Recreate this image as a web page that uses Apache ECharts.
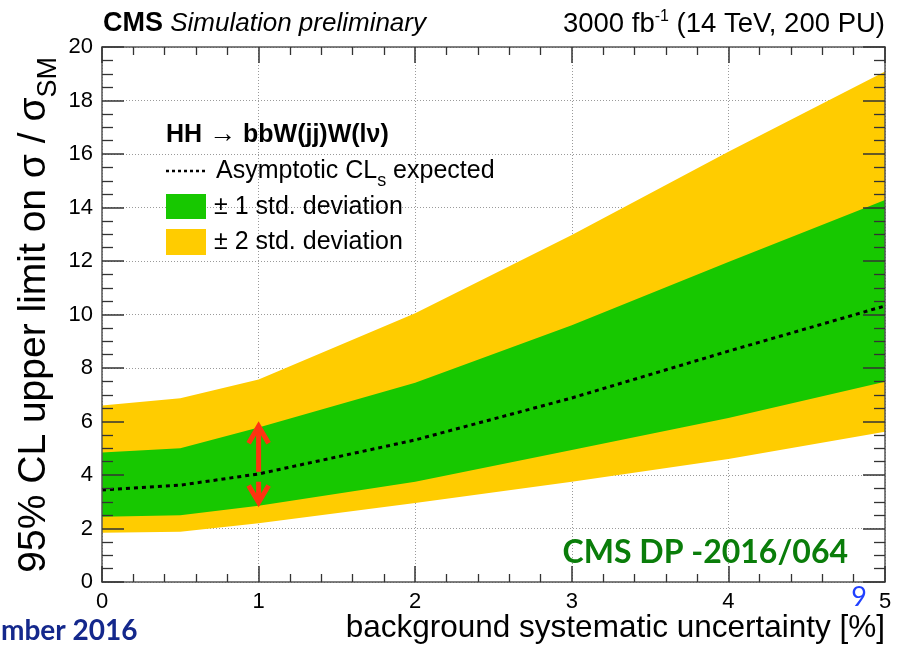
<!DOCTYPE html>
<html>
<head>
<meta charset="utf-8">
<script src="https://cdn.jsdelivr.net/npm/echarts@6.0.0/dist/echarts.min.js"></script>
<style>
  html, body { margin: 0; padding: 0; background: #fff; }
  #chart { width: 910px; height: 645px; }
</style>
</head>
<body>
<div id="chart"></div>
<script>
// Background systematic uncertainty [%]
const uncertainty = [0, 0.5, 1, 2, 3, 4, 5];
// Expected 95% CL upper limit on sigma / sigma_SM and its bands
const expected     = [3.44, 3.62, 4.04, 5.31, 6.88, 8.63, 10.32];
const oneSigmaLow  = [2.44, 2.50, 2.85, 3.75, 4.93, 6.13, 7.49];
const oneSigmaHigh = [4.84, 5.00, 5.78, 7.45, 9.60, 11.96, 14.28];
const twoSigmaLow  = [1.84, 1.88, 2.20, 2.95, 3.75, 4.60, 5.62];
const twoSigmaHigh = [6.60, 6.87, 7.57, 10.05, 12.97, 16.08, 19.08];
// Highlighted spread at 1% uncertainty: [x, shaft start, up tip, down start, down tip]
const arrowMarks = [[1, 4.12, 5.90, 3.75, 2.90]];

const xTicks = { min: 0, max: 5, interval: 1 };
const yTicks = { min: 0, max: 20, interval: 2 };

const FONT = '"Liberation Sans", Arial, Helvetica, sans-serif';
const SLIDE_FONT = 'Lato, "Open Sans", sans-serif';
const YELLOW = '#ffcc00';
const GREEN = '#17c800';
const RED = '#ff3311';
const FRAME = '#555';
const TICK = '#333';

const pts = arr => uncertainty.map((x, i) => [x, arr[i]]);
const bandRows = (lo, hi) => uncertainty.map((x, i) => [x, lo[i], hi[i]]);

// Filled band between two curves, drawn as one polygon through the cartesian scale
function bandSeries(lo, hi, color, z) {
  return {
    type: 'custom', data: bandRows(lo, hi), z: z, silent: true,
    encode: { x: 0, y: [1, 2] },
    renderItem(params, api) {
      if (params.dataIndexInside !== 0) return null;
      const n = params.dataInsideLength;
      const upper = [], lower = [];
      for (let i = 0; i < n; i++) {
        const x = api.value(0, i);
        upper.push(api.coord([x, api.value(2, i)]));
        lower.unshift(api.coord([x, api.value(1, i)]));
      }
      return {
        type: 'polygon',
        shape: { points: upper.concat(lower) },
        style: { fill: color, stroke: null }
      };
    }
  };
}

function frameAxis(pos, ticks, tickLen, minorLen, minorSplit, showLabel) {
  return {
    type: 'value', position: pos, min: ticks.min, max: ticks.max, interval: ticks.interval,
    z: 10,
    axisLine: { show: true, onZero: false, lineStyle: { color: FRAME, width: 1.5 } },
    axisTick: { show: true, inside: true, length: tickLen, lineStyle: { color: TICK, width: 1.5 } },
    minorTick: { show: true, splitNumber: minorSplit, length: minorLen, lineStyle: { color: TICK, width: 1.3 } },
    axisLabel: { show: showLabel, fontSize: 22, color: '#000', fontFamily: FONT, margin: 9 },
    splitLine: { show: false }
  };
}
function gridAxis(pos, ticks) {
  return {
    type: 'value', position: pos, min: ticks.min, max: ticks.max, interval: ticks.interval,
    z: 0,
    axisLine: { show: false }, axisTick: { show: false }, axisLabel: { show: false },
    splitLine: { show: true, lineStyle: { color: '#9a9a9a', width: 1, type: [1, 2] } }
  };
}

const chart = echarts.init(document.getElementById('chart'), null, { renderer: 'canvas' });

chart.setOption({
  animation: false,
  backgroundColor: '#fff',
  grid: { left: 102, right: 25, top: 47, bottom: 63, containLabel: false, outerBoundsMode: 'none' },
  xAxis: [
    frameAxis('bottom', xTicks, 16, 8, 5, true),
    frameAxis('top', xTicks, 16, 8, 5, false),
    gridAxis('bottom', xTicks)
  ],
  yAxis: [
    frameAxis('left', yTicks, 22, 11, 4, true),
    frameAxis('right', yTicks, 22, 11, 4, false),
    gridAxis('left', yTicks)
  ],
  series: [
    bandSeries(twoSigmaLow, twoSigmaHigh, YELLOW, 2),
    bandSeries(oneSigmaLow, oneSigmaHigh, GREEN, 3),
    { type: 'line', data: pts(expected), symbol: 'none', silent: true, z: 4,
      lineStyle: { color: '#000', width: 3, type: [4, 4] } },
    {
      type: 'custom', data: arrowMarks, z: 6, silent: true, clip: false,
      encode: { x: 0, y: [1, 2, 3, 4] },
      renderItem(params, api) {
        const x = api.value(0);
        const a = api.coord([x, api.value(1)]);
        const b = api.coord([x, api.value(2)]);
        const c = api.coord([x, api.value(3)]);
        const d = api.coord([x, api.value(4)]);
        const hw = 10, hh = 19;
        const st = { stroke: RED, lineWidth: 5, fill: null, lineJoin: 'miter' };
        return {
          type: 'group',
          children: [
            { type: 'line', shape: { x1: a[0], y1: a[1], x2: b[0], y2: b[1] + 2 }, style: st },
            { type: 'polyline', shape: { points: [[b[0] - hw, b[1] + hh], [b[0], b[1] + 2], [b[0] + hw, b[1] + hh]] }, style: st },
            { type: 'line', shape: { x1: c[0], y1: c[1], x2: d[0], y2: d[1] - 2 }, style: st },
            { type: 'polyline', shape: { points: [[d[0] - hw, d[1] - hh], [d[0], d[1] - 2], [d[0] + hw, d[1] - hh]] }, style: st }
          ]
        };
      }
    }
  ],
  graphic: [
    // header
    { type: 'text', x: 103, y: 24, z: 100, style: {
        text: '{b|CMS}{i| Simulation preliminary}', align: 'left', verticalAlign: 'middle',
        rich: { b: { fontSize: 27, fontWeight: 'bold', fontFamily: FONT, fill: '#000' },
                i: { fontSize: 26, fontStyle: 'italic', fontFamily: FONT, fill: '#000' } } } },
    { type: 'text', x: 885, y: 24, z: 100, style: {
        text: '{n|3000 fb}{s|-1}{n| (14 TeV, 200 PU)}', align: 'right', verticalAlign: 'middle',
        rich: { n: { fontSize: 27.5, fontFamily: FONT, fill: '#000', lineHeight: 30 },
                s: { fontSize: 16, fontFamily: FONT, fill: '#000', lineHeight: 30, verticalAlign: 'top' } } } },
    // axis titles
    { type: 'text', x: 34, y: 57, rotation: Math.PI / 2, z: 100, style: {
        text: '{n|95% CL upper limit on σ / σ}{s|SM}', align: 'right', verticalAlign: 'middle',
        rich: { n: { fontSize: 39, fontFamily: FONT, fill: '#000', lineHeight: 56 },
                s: { fontSize: 27, fontFamily: FONT, fill: '#000', lineHeight: 56, verticalAlign: 'bottom' } } } },
    { type: 'text', x: 885, y: 628, z: 100, style: {
        text: 'background systematic uncertainty [%]', align: 'right', verticalAlign: 'middle',
        fontSize: 31.5, fontFamily: FONT, fill: '#000' } },
    // legend
    { type: 'text', x: 166, y: 135, z: 100, style: {
        text: '{b|HH }{a|→}{b| bbW(jj)W(lν)}', align: 'left', verticalAlign: 'middle',
        rich: { b: { fontSize: 25, fontWeight: 'bold', fontFamily: FONT, fill: '#000' },
                a: { fontSize: 27, fontFamily: FONT, fill: '#000' } } } },
    { type: 'line', z: 100, shape: { x1: 166, y1: 171, x2: 205, y2: 171 },
      style: { stroke: '#000', lineWidth: 2.5, lineDash: [3, 3] } },
    { type: 'text', x: 216, y: 171, z: 100, style: {
        text: '{n|Asymptotic CL}{s|s}{n| expected}', align: 'left', verticalAlign: 'middle',
        rich: { n: { fontSize: 25, fontFamily: FONT, fill: '#000', lineHeight: 38 },
                s: { fontSize: 18, fontFamily: FONT, fill: '#000', lineHeight: 38, verticalAlign: 'bottom' } } } },
    { type: 'rect', z: 100, shape: { x: 166, y: 194, width: 40, height: 25 }, style: { fill: GREEN } },
    { type: 'text', x: 214, y: 207, z: 100, style: {
        text: '± 1 std. deviation', align: 'left', verticalAlign: 'middle',
        fontSize: 25, fontFamily: FONT, fill: '#000' } },
    { type: 'rect', z: 100, shape: { x: 166, y: 229, width: 40, height: 26 }, style: { fill: YELLOW } },
    { type: 'text', x: 214, y: 242, z: 100, style: {
        text: '± 2 std. deviation', align: 'left', verticalAlign: 'middle',
        fontSize: 25, fontFamily: FONT, fill: '#000' } },
    // document reference and page footer
    { type: 'text', x: 848, y: 553, z: 100, style: {
        text: 'CMS DP -2016/064', align: 'right', verticalAlign: 'middle',
        fontSize: 32, fontWeight: 'bold', fontFamily: SLIDE_FONT, fill: '#0a7d0a' } },
    { type: 'text', x: 859, y: 597, z: 100, style: {
        text: '9', align: 'center', verticalAlign: 'middle',
        fontSize: 27, fontFamily: SLIDE_FONT, fill: '#2040ff' } },
    { type: 'text', x: 1, y: 631, z: 100, style: {
        text: 'mber 2016', align: 'left', verticalAlign: 'middle',
        fontSize: 28, fontWeight: 'bold', fontFamily: SLIDE_FONT, fill: '#14288c' } }
  ]
});
</script>
</body>
</html>
